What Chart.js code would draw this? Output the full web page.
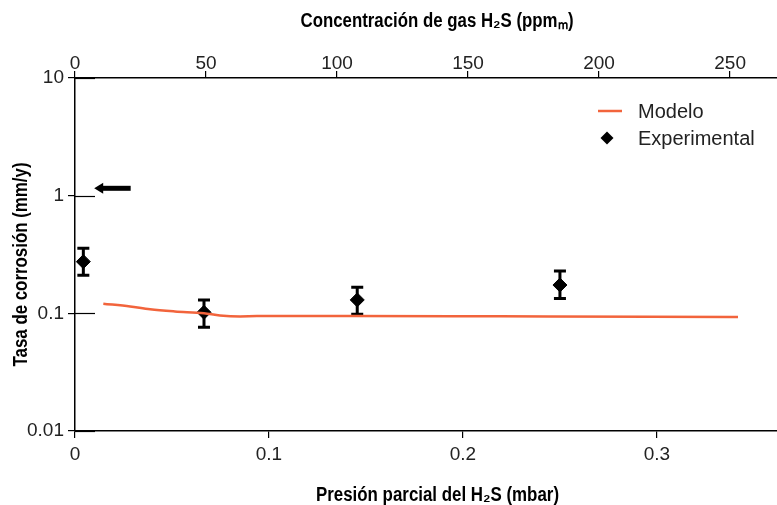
<!DOCTYPE html>
<html><head><meta charset="utf-8">
<script src="https://cdn.jsdelivr.net/npm/chart.js@4.4.0/dist/chart.umd.min.js"></script>
<style>html,body{margin:0;padding:0;background:#fff;}#wrap{width:777px;height:505px;}</style>
</head><body><div id="wrap"><canvas id="c" width="777" height="505"></canvas></div>
<script>
// ---- data ----
const modelX = [0.0146, 0.0284, 0.0387, 0.0515, 0.0665, 0.0747, 0.0851, 0.0938, 0.1418, 0.2191, 0.2964, 0.3418];
const modelY = [0.1208, 0.1143, 0.1082, 0.1037, 0.1000, 0.0960, 0.0942, 0.0948, 0.0949, 0.0943, 0.0936, 0.0930];
const expX = [0.0043, 0.0665, 0.1455, 0.2500];
const expY = [0.275, 0.102, 0.130, 0.174];
const expErrLow = [0.2105, 0.0761, 0.0982, 0.134];
const expErrHigh = [0.357, 0.130, 0.1665, 0.229];
const arrowX = [0.0287, 0.0099];
const arrowY = [1.155, 1.155];
const xTicks = [0, 0.1, 0.2, 0.3];
const topTicks = [0, 50, 100, 150, 200, 250];
const yTicks = [0.01, 0.1, 1, 10];
const seriesNames = ['Modelo', 'Experimental'];
const titleBottom = 'Presión parcial del H₂S (mbar)';
const titleTop = 'Concentración de gas H₂S (ppmₘ)';
const titleLeft = 'Tasa de corrosión (mm/y)';

const ORANGE = '#f2643c';
const TICKFONT = {family: '"Liberation Sans", Arial, sans-serif', size: 19, lineHeight: 1};

// axis titles, drawn as condensed bold text
const axisTitles = {
  id: 'axisTitles',
  afterDraw(chart) {
    const {ctx} = chart;
    const items = [
      {text: titleTop, x: 437, y: 26.5, w: 273, rot: 0},
      {text: titleBottom, x: 437.5, y: 500.5, w: 243, rot: 0},
      {text: titleLeft, x: 27, y: 264.5, w: 204, rot: -Math.PI / 2}
    ];
    ctx.save();
    ctx.fillStyle = '#000';
    ctx.font = 'bold 19.5px "Liberation Sans", Arial, sans-serif';
    ctx.textAlign = 'center'; ctx.textBaseline = 'alphabetic';
    items.forEach(it => {
      const m = ctx.measureText(it.text).width;
      ctx.save();
      ctx.translate(it.x, it.y);
      ctx.rotate(it.rot);
      ctx.scale(it.w / m, 1);
      ctx.fillText(it.text, 0, 0);
      ctx.restore();
    });
    ctx.restore();
  }
};
const yStubs = {
  id: 'yStubs',
  afterDraw(chart) {
    const {ctx} = chart; const y = chart.scales.y;
    ctx.save(); ctx.strokeStyle = '#000'; ctx.lineWidth = 1.2;
    y.ticks.forEach(t => {
      const py = Math.round(y.getPixelForValue(t.value)) + 0.5;
      ctx.beginPath(); ctx.moveTo(y.right, py); ctx.lineTo(y.right + 20, py); ctx.stroke();
    });
    ctx.restore();
  }
};
const errorBars = {
  id: 'errorBars',
  beforeDatasetsDraw(chart) {
    const {ctx} = chart; const x = chart.scales.x, y = chart.scales.y;
    ctx.save(); ctx.strokeStyle = '#000'; ctx.lineWidth = 3;
    expX.forEach((xv, i) => {
      const px = x.getPixelForValue(xv);
      const lo = y.getPixelForValue(expErrLow[i]);
      const hi = y.getPixelForValue(expErrHigh[i]);
      ctx.beginPath();
      ctx.moveTo(px, lo); ctx.lineTo(px, hi);
      ctx.moveTo(px - 6, lo); ctx.lineTo(px + 6, lo);
      ctx.moveTo(px - 6, hi); ctx.lineTo(px + 6, hi);
      ctx.stroke();
    });
    ctx.restore();
  }
};
const arrow = {
  id: 'arrow',
  afterDraw(chart) {
    const {ctx} = chart; const x = chart.scales.x, y = chart.scales.y;
    const tx = x.getPixelForValue(arrowX[1]), ty = y.getPixelForValue(arrowY[1]);
    const fx = x.getPixelForValue(arrowX[0]), fy = y.getPixelForValue(arrowY[0]);
    ctx.save(); ctx.fillStyle = '#000'; ctx.strokeStyle = '#000'; ctx.lineWidth = 5;
    ctx.beginPath(); ctx.moveTo(fx, fy); ctx.lineTo(tx + 6, ty); ctx.stroke();
    ctx.beginPath(); ctx.moveTo(tx, ty); ctx.lineTo(tx + 9, ty - 5.5); ctx.lineTo(tx + 9, ty + 5.5); ctx.closePath(); ctx.fill();
    ctx.restore();
  }
};
const legendBox = {
  id: 'legendBox',
  afterDraw(chart) {
    const {ctx} = chart;
    ctx.save();
    ctx.font = '20px "Liberation Sans", Arial, sans-serif';
    ctx.fillStyle = '#222'; ctx.textBaseline = 'middle'; ctx.textAlign = 'left';
    ctx.strokeStyle = ORANGE; ctx.lineWidth = 2.5;
    ctx.beginPath(); ctx.moveTo(598, 111); ctx.lineTo(622, 111); ctx.stroke();
    ctx.fillText(chart.data.datasets[0].label, 638, 112);
    ctx.fillStyle = '#000';
    ctx.beginPath(); ctx.moveTo(607, 131.5); ctx.lineTo(613.5, 138); ctx.lineTo(607, 144.5); ctx.lineTo(600.5, 138); ctx.closePath(); ctx.fill();
    ctx.fillStyle = '#222';
    ctx.fillText(chart.data.datasets[1].label, 638, 139);
    ctx.restore();
  }
};

const gridOpts = {drawOnChartArea: false, drawTicks: true, tickLength: 7, color: '#000', lineWidth: 1.2};
const borderOpts = {display: true, color: '#000', width: 1.5};
const fitX = h => s => { s.height = h; s.paddingLeft = 0; s.paddingRight = 0; };

new Chart(document.getElementById('c'), {
  type: 'scatter',
  data: {
    datasets: [
      {label: seriesNames[0], data: modelX.map((v, i) => ({x: v, y: modelY[i]})), showLine: true, borderColor: ORANGE, borderWidth: 2.5, pointRadius: 0, cubicInterpolationMode: 'monotone', fill: false},
      {label: seriesNames[1], data: expX.map((v, i) => ({x: v, y: expY[i]})), showLine: false, pointStyle: 'rectRot', pointRadius: 7, backgroundColor: '#000', borderColor: '#000', borderWidth: 1}
    ]
  },
  options: {
    responsive: false, animation: false, devicePixelRatio: 1,
    layout: {autoPadding: false, padding: 0},
    plugins: {legend: {display: false}, tooltip: {enabled: false}},
    scales: {
      x: {
        type: 'linear', position: 'bottom', min: 0, max: 0.3619,
        afterBuildTicks: s => { s.ticks = xTicks.map(v => ({value: v})); },
        afterFit: fitX(74),
        ticks: {callback: v => String(v), font: TICKFONT, color: '#222', padding: 7, maxRotation: 0, autoSkip: false},
        grid: gridOpts, border: borderOpts,
        title: {display: false}
      },
      x2: {
        type: 'linear', position: 'top', display: true, min: 0, max: 267.9,
        afterBuildTicks: s => { s.ticks = topTicks.map(v => ({value: v})); },
        afterFit: fitX(78),
        ticks: {callback: v => String(v), font: TICKFONT, color: '#222', padding: -2, maxRotation: 0, autoSkip: false},
        grid: gridOpts, border: borderOpts,
        title: {display: false}
      },
      y: {
        type: 'logarithmic', position: 'left', min: 0.01, max: 10,
        afterBuildTicks: s => { s.ticks = yTicks.map(v => ({value: v})); },
        afterFit: s => { s.width = 75; },
        ticks: {callback: v => String(v), font: TICKFONT, color: '#222', padding: 4, autoSkip: false},
        grid: gridOpts, border: borderOpts,
        title: {display: false}
      }
    }
  },
  plugins: [errorBars, yStubs, arrow, legendBox, axisTitles]
});
</script></body></html>
